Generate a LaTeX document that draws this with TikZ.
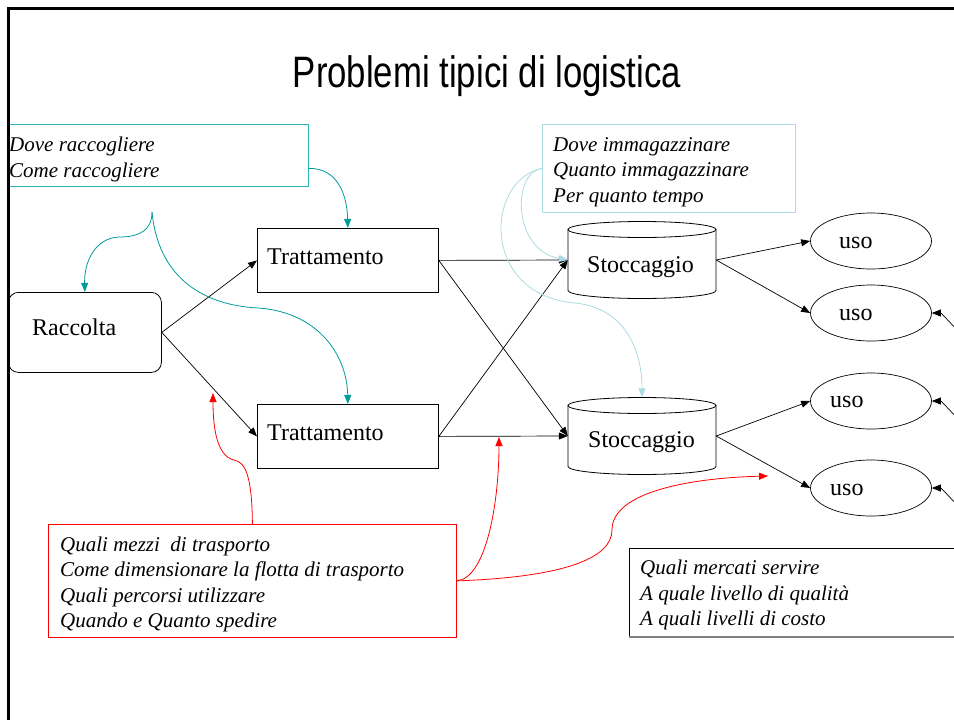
\documentclass[tikz,border=0pt]{standalone}
\usepackage{graphicx}
\usepackage{fontspec}
\setmainfont{Liberation Serif}
\newfontfamily\titlefont{Liberation Sans}
\usetikzlibrary{arrows.meta,shapes.geometric,calc}
\definecolor{tealc}{RGB}{0,155,155}
\definecolor{boxteal}{RGB}{40,178,182}
\definecolor{lbc}{RGB}{170,220,225}
\definecolor{redc}{RGB}{255,0,0}
\begin{document}
\begin{tikzpicture}[x=1pt,y=-1pt,
  tip/.style={-{Triangle[length=9pt,width=7pt]}},
  conn/.style={black, line width=0.7pt, tip},
  tealarr/.style={tealc, line width=0.8pt, tip},
  lbarr/.style={lbc, line width=0.8pt, tip},
  redarr/.style={redc, line width=0.8pt, tip},
  pbox/.style={draw, line width=0.8pt, inner sep=0pt, anchor=north west},
  rtext/.style={font=\fontsize{24}{28}\selectfont, inner sep=0pt, anchor=base west},
  itext/.style={font=\fontsize{21}{26}\selectfont\itshape, inner sep=0pt, anchor=base west},
  usoell/.style={ellipse, draw, line width=0.7pt, minimum width=121pt, minimum height=56pt, inner sep=0pt},
  cylbody/.style={inner sep=0pt, minimum width=148pt, minimum height=77pt},
  cyl/.style={line width=0.8pt}
]
\useasboundingbox (0,0) rectangle (954,720);
\clip (0,0) rectangle (954,720);

% title
\node[font=\titlefont\fontsize{44}{50}\selectfont, inner sep=0pt, anchor=base] (title) at (487,87) {\scalebox{0.79}[1]{Problemi tipici di logistica}};

% boxes
\node[pbox, draw=boxteal, minimum width=300pt, minimum height=62pt] (dr) at (8,124) {};
\node[pbox, draw=lbc, minimum width=253pt, minimum height=88pt] (lb) at (542,124) {};
\node[pbox, minimum width=181pt, minimum height=64pt] (t1) at (257,228) {};
\node[pbox, minimum width=181pt, minimum height=64pt] (t2) at (257,404) {};
\node[pbox, rounded corners=10pt, minimum width=153pt, minimum height=80pt] (rac) at (8,292) {};
\node[pbox, draw=redc, minimum width=408pt, minimum height=113pt] (rb) at (48,524) {};
\node[pbox, minimum width=400pt, minimum height=88pt] (mb) at (629,548) {};
\draw[gray, line width=1.6pt] (mb.south west) -- (mb.south east);

% cylinders
\node[cylbody] (s1) at (642,260) {};
\node[cylbody] (s2) at (642,436) {};
\draw[cyl] (642,229.5) ellipse[x radius=74pt, y radius=8pt];
\draw[cyl] (568,229.5) -- (568,290.5) arc[start angle=180, end angle=360, x radius=74pt, y radius=8pt] -- (716,229.5);
\draw[cyl] (642,405.5) ellipse[x radius=74pt, y radius=8pt];
\draw[cyl] (568,405.5) -- (568,466.5) arc[start angle=180, end angle=360, x radius=74pt, y radius=8pt] -- (716,405.5);

% uso ellipses
\node[usoell] (u1) at (871,241) {};
\node[usoell] (u2) at (871,313) {};
\node[usoell] (u3) at (871,401) {};
\node[usoell] (u4) at (871,488) {};

% texts
\node[itext] (dr1) at (9,151) {Dove raccogliere};
\node[itext] (dr2) at (9,177) {Come raccogliere};
\node[itext] (lb1) at (553,151) {Dove immagazzinare};
\node[itext] (lb2) at (553,176) {Quanto immagazzinare};
\node[itext] (lb3) at (553,202) {Per quanto tempo};
\node[itext] (rb1) at (60,551) {Quali mezzi \ di trasporto};
\node[itext] (rb2) at (60,576) {Come dimensionare la flotta di trasporto};
\node[itext] (rb3) at (60,602) {Quali percorsi utilizzare};
\node[itext] (rb4) at (60,627) {Quando e Quanto spedire};
\node[itext] (mb1) at (640,574) {Quali mercati servire};
\node[itext] (mb2) at (640,600) {A quale livello di qualità};
\node[itext] (mb3) at (640,625) {A quali livelli di costo};
\node[rtext] (t1t) at (267,264) {Trattamento};
\node[rtext] (t2t) at (267,440) {Trattamento};
\node[rtext] (ract) at (32,335) {Raccolta};
\node[rtext] (s1t) at (587,272) {Stoccaggio};
\node[rtext] (s2t) at (588,447) {Stoccaggio};
\node[rtext] (u1t) at (839,248) {uso};
\node[rtext] (u2t) at (839,320) {uso};
\node[rtext] (u3t) at (830,407) {uso};
\node[rtext] (u4t) at (830,495) {uso};

% black connectors
\draw[conn] (rac.east) -- (t1.west);
\draw[conn] (rac.east) -- (t2.west);
\draw[conn] (t1.east) -- (s1.west);
\draw[conn] (t1.east) -- (s2.west);
\draw[conn] (t2.east) -- (s1.west);
\draw[conn] (t2.east) -- (s2.west);
\draw[conn] (s1.east) -- (u1.west);
\draw[conn] (s1.east) -- (u2.west);
\draw[conn] (s2.east) -- (u3.west);
\draw[conn] (s2.east) -- (u4.west);
\coordinate (e2) at (957,330);
\coordinate (e3) at (957,418);
\coordinate (e4) at (957,505);
\draw[conn] (e2) .. controls (946,318) and (941,313) .. (u2.east);
\draw[conn] (e3) .. controls (946,406) and (941,401) .. (u3.east);
\draw[conn] (e4) .. controls (946,493) and (941,488) .. (u4.east);

% teal connectors
\coordinate (tb) at (152,212);
\draw[tealarr] ([yshift=-13pt]dr.east) .. controls (338,168) and (347,195) .. (t1.north);
\draw[tealarr] (tb) .. controls (152,230) and (140,237) .. (119,237) .. controls (95,238) and (84,262) .. (rac.north);
\draw[tealarr] (tb) .. controls (158,275) and (200,305) .. (258,308) .. controls (318,312) and (347,355) .. (t2.north);

% light blue connectors
\draw[lbarr] (lb.west) .. controls (512,172) and (512,250) .. (s1.west);
\draw[lbarr] (lb.west) .. controls (485,180) and (480,295) .. (575,303) .. controls (625,308) and (642,350) .. (s2.north);

% red connectors
\coordinate (r1) at (213,393);
\coordinate (r2) at (499,437);
\coordinate (r3) at (768,476);
\draw[redarr] (rb.north) .. controls (252,478) and (246,462) .. (234,460) .. controls (216,456) and (213,425) .. (r1);
\draw[redarr] (rb.east) .. controls (487,578) and (499,500) .. (r2);
\draw[redarr] (rb.east) .. controls (565,577) and (612,558) .. (612,530) .. controls (612,492) and (690,478) .. (r3);

% frame
\draw[line width=3pt] (8,725) -- (8,8) -- (960,8);
\end{tikzpicture}
\end{document}
